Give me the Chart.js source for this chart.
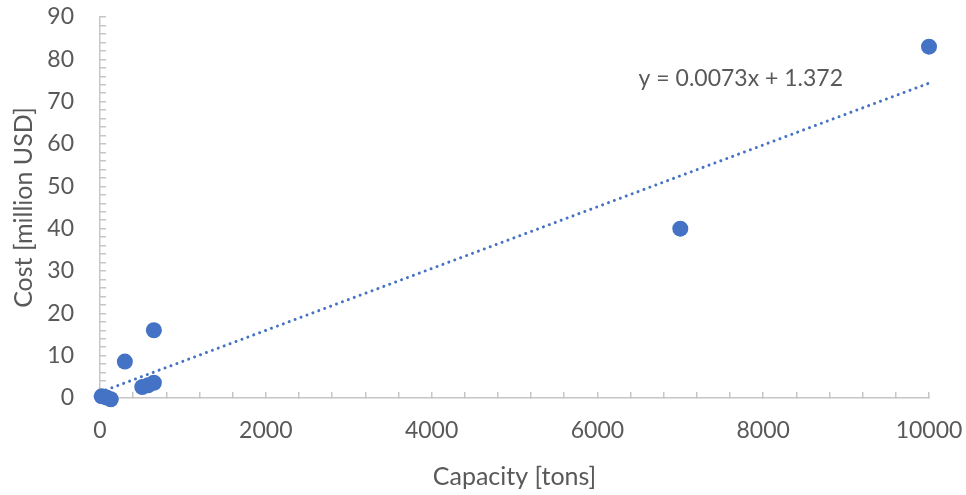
<!DOCTYPE html>
<html>
<head>
<meta charset="utf-8">
<script src="https://cdn.jsdelivr.net/npm/chart.js@4/dist/chart.umd.min.js"></script>
<style>
	html, body { margin: 0; padding: 0; background: #fff; }
	#wrap { width: 966px; height: 495px; }
</style>
</head>
<body>
<div id="wrap"><canvas id="chart"></canvas></div>
<script>
// ── Data ──────────────────────────────────────────────────────────────────────

const capacity = [20, 80, 130, 300, 510, 580, 650, 650, 7000, 10000];
const cost = [0.4, 0.1, -0.3, 8.6, 2.6, 3.0, 3.6, 16, 40, 83];

// Linear trendline as printed on the chart
const trendSlope = 0.0073;
const trendIntercept = 1.372;
const trendX = [0, 10000];
const trendLabel = 'y = 0.0073x + 1.372';

const xTitle = 'Capacity [tons]';
const yTitle = 'Cost [million USD]';

// ── Style ─────────────────────────────────────────────────────────────────────

const BLUE = '#4472c4';
const TEXT = '#595959';
const AXIS = '#c6c6c6';
const FONT = 'Lato, "Open Sans", sans-serif';

const points = capacity.map((x, i) => ({ x, y: cost[i] }));
const trend = trendX.map((x) => ({ x, y: trendSlope * x + trendIntercept }));

// Equation text, placed in data space next to the end of the trendline.
const equationLabel = {
	id: 'equationLabel',
	afterDatasetsDraw(chart) {
		const { ctx, scales } = chart;
		ctx.save();
		ctx.font = '23px ' + FONT;
		ctx.fillStyle = TEXT;
		ctx.textAlign = 'center';
		ctx.textBaseline = 'middle';
		ctx.fillText(trendLabel, scales.x.getPixelForValue(7730), scales.y.getPixelForValue(75.4));
		ctx.restore();
	},
};

new Chart(document.getElementById('chart'), {
	type: 'scatter',
	data: {
		datasets: [
			{
				label: 'Cost',
				data: points,
				backgroundColor: BLUE,
				borderWidth: 0,
				pointRadius: 8,
				pointHoverRadius: 8,
				clip: false,
			},
			{
				label: 'Linear trend',
				type: 'line',
				data: trend,
				borderColor: BLUE,
				borderWidth: 3,
				borderDash: [0.01, 6.3],
				borderCapStyle: 'round',
				pointRadius: 0,
				fill: false,
				clip: false,
			},
		],
	},
	options: {
		responsive: true,
		maintainAspectRatio: false,
		animation: false,
		layout: { padding: { top: 17, right: 37, left: 0, bottom: 0 } },
		plugins: {
			legend: { display: false },
			tooltip: { enabled: false },
		},
		scales: {
			x: {
				type: 'linear',
				min: 0,
				max: 10000,
				// fixed box; the big tick padding must not widen the side margins
				afterFit: (s) => {
					s.height = 97;
					s.paddingLeft = 0;
					s.paddingRight = 0;
				},
				border: { display: true, color: AXIS, width: 1.5 },
				grid: { drawOnChartArea: false, drawTicks: true, tickLength: -6, color: AXIS, lineWidth: 1.5 },
				ticks: {
					stepSize: 400,
					maxTicksLimit: 100,
					autoSkip: false,
					maxRotation: 0,
					padding: 25,
					color: TEXT,
					font: { family: FONT, size: 23 },
					callback: (v) => (v % 2000 === 0 ? String(v) : ''),
				},
				title: {
					display: true,
					text: xTitle,
					color: TEXT,
					font: { family: FONT, size: 25 },
					padding: { top: 0, bottom: 3 },
				},
			},
			y: {
				type: 'linear',
				min: 0,
				max: 90,
				afterFit: (s) => {
					s.width = 100;
					s.paddingTop = 0;
					s.paddingBottom = 0;
				},
				border: { display: true, color: AXIS, width: 1.5 },
				grid: { drawOnChartArea: false, drawTicks: true, tickLength: -6, color: AXIS, lineWidth: 1.5 },
				ticks: {
					stepSize: 2,
					maxTicksLimit: 100,
					autoSkip: false,
					padding: 32,
					color: TEXT,
					font: { family: FONT, size: 23 },
					callback: (v) => (v % 10 === 0 ? String(v) : ''),
				},
				title: {
					display: true,
					text: yTitle,
					color: TEXT,
					font: { family: FONT, size: 25 },
					padding: { top: 9, bottom: 0 },
				},
			},
		},
	},
	plugins: [equationLabel],
});
</script>
</body>
</html>
